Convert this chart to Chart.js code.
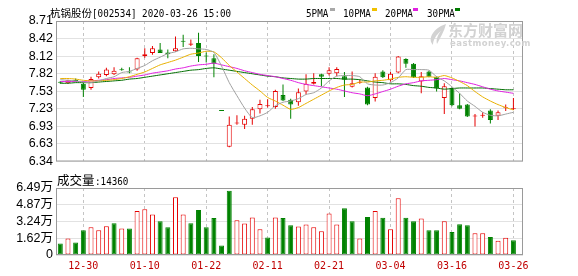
<!DOCTYPE html>
<html>
<head>
<meta charset="utf-8">
<script src="https://cdn.jsdelivr.net/npm/chart.js@4.4.1/dist/chart.umd.min.js"></script>
<style>
  html, body { margin:0; padding:0; background:#fff; }
  #stage { position:relative; width:578px; height:276px; overflow:hidden; background:#fff; }
  canvas { position:absolute; left:0; }
  #priceCanvas { top:0; }
  #volCanvas { top:170px; }
  .lbl { position:absolute; white-space:nowrap; color:#000; line-height:1; }
  .cjk { font-family:"Noto Sans CJK SC", sans-serif; }
  .asc { display:inline-block; font-family:"DejaVu Sans Mono", monospace; font-size:10.5px; transform:scaleX(0.88); transform-origin:0 50%; }
  .sw { position:absolute; width:5px; height:3px; }
  .wm { position:absolute; color:#d2d2d2; white-space:nowrap; line-height:1; }
</style>
</head>
<body>
<div id="stage">
  <canvas id="priceCanvas" width="578" height="172"></canvas>
  <canvas id="volCanvas" width="578" height="106"></canvas>

  <!-- header -->
  <div class="lbl" style="left:50px;top:4px;"><span class="cjk" style="font-size:10.5px">杭锅股份</span><span class="asc">[002534] 2020-03-26 15:00</span></div>
  <div class="lbl" style="left:306px;top:4px;"><span class="asc">5PMA</span></div>
  <div class="sw" style="left:330px;top:8px;background:#a8a8a8"></div>
  <div class="lbl" style="left:343px;top:4px;"><span class="asc">10PMA</span></div>
  <div class="sw" style="left:372px;top:8px;background:#f0c000"></div>
  <div class="lbl" style="left:385px;top:4px;"><span class="asc">20PMA</span></div>
  <div class="sw" style="left:413px;top:8px;background:#e020e0"></div>
  <div class="lbl" style="left:427px;top:4px;"><span class="asc">30PMA</span></div>
  <div class="sw" style="left:455px;top:8px;background:#007a00"></div>

  <!-- watermark -->
  <svg style="position:absolute;left:427px;top:23px" width="22" height="23" viewBox="0 0 22 23">
    <path d="M19 1 C12 3 6 8 4 14 C3 17 4 20 6 22 C6 17 9 12 14 8 C10 13 9 17 10 21 C13 15 17 9 19 1 Z" fill="#d2d2d2"/>
  </svg>
  <div class="wm cjk" style="left:448px;top:22px;font-size:15px;font-weight:bold;">东方财富网</div>
  <div class="wm" style="left:450px;top:38px;font:bold 8.5px 'DejaVu Sans',sans-serif;letter-spacing:0.45px;">eastmoney.com</div>

  <!-- volume caption -->
  <div class="lbl" style="left:57px;top:172px;"><span class="cjk" style="font-size:12.5px">成交量</span><span class="asc">:14360</span></div>
</div>

<script>
// trading days shown
const dates = [
  '12-25','12-26','12-27','12-30','12-31','01-02','01-03','01-06','01-07','01-08',
  '01-09','01-10','01-13','01-14','01-15','01-16','01-17','01-20','01-21','01-22',
  '01-23','02-03','02-04','02-05','02-06','02-07','02-10','02-11','02-12','02-13',
  '02-14','02-17','02-18','02-19','02-20','02-21','02-24','02-25','02-26','02-27',
  '02-28','03-02','03-03','03-04','03-05','03-06','03-09','03-10','03-11','03-12',
  '03-13','03-16','03-17','03-18','03-19','03-20','03-23','03-24','03-25','03-26'
];

// daily prices
const opens = [
  7.68,7.66,7.72,7.65,7.58,7.76,7.80,7.81,7.89,7.86,
  7.89,8.12,8.17,8.23,8.18,8.20,8.37,8.31,8.34,8.12,
  8.08,7.19,6.59,6.98,6.96,7.06,7.22,7.27,7.26,7.46,
  7.38,7.34,7.52,7.65,7.81,7.82,7.83,7.78,7.60,7.67,
  7.59,7.41,7.86,7.71,7.84,8.07,7.99,7.69,7.86,7.77,
  7.41,7.58,7.29,7.30,7.10,7.11,7.20,7.11,7.24,7.22
];
const highs = [
  7.70,7.72,7.74,7.67,7.77,7.86,7.92,7.93,7.92,7.93,
  8.09,8.25,8.29,8.34,8.23,8.45,8.48,8.40,8.51,8.18,
  8.15,7.19,7.10,7.12,7.11,7.26,7.38,7.39,7.55,7.64,
  7.40,7.57,7.81,7.83,7.82,7.93,7.93,7.85,7.86,7.72,
  7.60,7.83,7.88,7.85,8.12,8.08,8.00,7.85,7.87,7.78,
  7.66,7.59,7.49,7.31,7.14,7.17,7.22,7.20,7.30,7.41
];
const lows = [
  7.65,7.65,7.69,7.43,7.55,7.74,7.78,7.80,7.87,7.83,
  7.87,8.09,8.14,8.17,8.08,8.19,8.27,8.29,8.02,8.01,
  7.76,7.19,6.58,6.96,6.89,6.96,7.15,7.25,7.23,7.36,
  7.06,7.28,7.47,7.64,7.61,7.79,7.78,7.43,7.59,7.65,
  7.29,7.35,7.75,7.69,7.83,7.92,7.75,7.49,7.76,7.52,
  7.14,7.27,7.22,7.09,6.93,7.08,6.98,7.04,7.19,7.21
];
const closes = [
  7.67,7.71,7.70,7.55,7.73,7.82,7.89,7.87,7.88,7.84,
  8.08,8.15,8.25,8.17,8.15,8.25,8.36,8.33,8.12,8.11,
  7.99,7.19,6.96,6.99,7.06,7.22,7.31,7.28,7.53,7.37,
  7.30,7.51,7.65,7.68,7.77,7.88,7.90,7.72,7.66,7.68,
  7.30,7.77,7.76,7.82,8.11,7.99,7.76,7.78,7.77,7.57,
  7.61,7.29,7.23,7.10,7.11,7.13,7.04,7.17,7.25,7.24
];

// daily volume (shares, hundreds)
const volumes = [
  11100,16060,12130,23930,26880,23930,27860,30810,25570,25570,
  42610,44250,39340,32780,26880,56050,39340,30810,43600,26880,
  35730,9180,62280,33760,30490,36390,24910,17050,36390,35730,
  28850,27540,29500,26880,22950,40320,29500,45240,32780,16060,
  36710,42610,36060,24910,55070,36060,32780,35400,23930,23930,
  32780,22290,29830,28850,20980,20980,17370,13770,16720,14360
];

// moving averages
const ma5 = [
  7.72,7.71,7.70,7.68,7.67,7.70,7.74,7.77,7.84,7.86,
  7.91,7.96,8.04,8.10,8.16,8.19,8.24,8.25,8.24,8.23,
  8.18,7.95,7.67,7.45,7.24,7.08,7.11,7.17,7.28,7.34,
  7.36,7.40,7.47,7.50,7.58,7.70,7.78,7.79,7.79,7.77,
  7.65,7.63,7.63,7.67,7.75,7.89,7.89,7.89,7.88,7.77,
  7.70,7.60,7.49,7.36,7.27,7.17,7.12,7.11,7.14,7.17
];
const ma10 = [
  7.74,7.74,7.73,7.71,7.70,7.70,7.71,7.72,7.74,7.77,
  7.81,7.85,7.91,7.97,8.01,8.05,8.10,8.15,8.17,8.20,
  8.19,8.09,7.96,7.85,7.74,7.63,7.53,7.42,7.36,7.29,
  7.22,7.25,7.32,7.39,7.46,7.53,7.59,7.63,7.64,7.68,
  7.68,7.70,7.71,7.73,7.76,7.77,7.76,7.76,7.77,7.76,
  7.79,7.75,7.69,7.62,7.52,7.43,7.36,7.30,7.25,7.21
];
const ma20 = [
  7.69,7.69,7.69,7.69,7.70,7.71,7.72,7.74,7.75,7.76,
  7.78,7.80,7.83,7.85,7.87,7.90,7.92,7.95,7.97,7.98,
  8.00,7.97,7.94,7.91,7.87,7.84,7.81,7.79,7.77,7.74,
  7.71,7.67,7.64,7.62,7.60,7.58,7.56,7.53,7.50,7.48,
  7.45,7.48,7.52,7.56,7.61,7.65,7.67,7.70,7.71,7.72,
  7.74,7.72,7.70,7.67,7.64,7.60,7.56,7.53,7.51,7.49
];
const ma30 = [
  7.66,7.66,7.67,7.67,7.67,7.68,7.69,7.70,7.71,7.73,
  7.74,7.76,7.78,7.80,7.82,7.84,7.86,7.88,7.89,7.91,
  7.92,7.90,7.88,7.86,7.84,7.82,7.80,7.78,7.77,7.75,
  7.74,7.73,7.73,7.74,7.74,7.74,7.74,7.73,7.73,7.72,
  7.70,7.68,7.67,7.65,7.65,7.64,7.62,7.61,7.59,7.58,
  7.56,7.57,7.58,7.58,7.58,7.58,7.57,7.56,7.55,7.55
];

// axis labels
const priceTickLabels = ['6.34','6.63','6.93','7.23','7.53','7.82','8.12','8.42','8.71'];
const priceMin = 6.34, priceMax = 8.71;
const volTickLabels = ['0','1.62万','3.24万','4.87万','6.49万'];
const volMax = 64900;
const dateTickIdx = [3, 11, 19, 27, 35, 43, 51, 59];

const RED = '#e60000';
const GREEN = '#008200';
const X_MIN = -0.56, X_MAX = 60.25;

function candleUp(i) {
  if (closes[i] !== opens[i]) return closes[i] > opens[i];
  return i > 0 ? closes[i] >= closes[i - 1] : true;
}
function volumeUp(i) {
  return i > 0 ? closes[i] > closes[i - 1] : closes[i] >= opens[i];
}

const idx = dates.map((_, i) => i);
const candleColor = idx.map(i => candleUp(i) ? RED : GREEN);
const candleFill = idx.map(i => candleUp(i) ? '#ffffff' : GREEN);
const volColor = idx.map(i => volumeUp(i) ? RED : GREEN);
const volFill = idx.map(i => volumeUp(i) ? '#ffffff' : GREEN);

// plot frame
const framePlugin = {
  id: 'frame',
  afterDraw(chart) {
    const { ctx, chartArea: a } = chart;
    ctx.save();
    ctx.strokeStyle = '#9a9a9a';
    ctx.lineWidth = 1;
    ctx.strokeRect(a.left + 0.5, a.top + 0.5, a.right - a.left - 1, a.bottom - a.top - 1);
    ctx.restore();
  }
};

const evenTicks = (min, max, n) => Array.from({ length: n }, (_, k) => ({ value: min + (max - min) * k / (n - 1) }));

function maLine(label, values, color) {
  return {
    type: 'line', label, data: values.map((v, i) => ({ x: i, y: v })),
    borderColor: color, borderWidth: 1, pointRadius: 0, tension: 0.2, order: 0
  };
}

new Chart(document.getElementById('priceCanvas'), {
  type: 'bar',
  data: {
    datasets: [
      maLine('5PMA', ma5, '#a0a0a0'),
      maLine('10PMA', ma10, '#e8b000'),
      maLine('20PMA', ma20, '#e020e0'),
      maLine('30PMA', ma30, '#006e00'),
      {
        label: 'body',
        data: idx.map(i => ({ x: i, y: [opens[i], closes[i]] })),
        backgroundColor: candleFill, borderColor: candleColor, borderWidth: 1,
        borderSkipped: false, barThickness: 5, minBarLength: 1, grouped: false,
        inflateAmount: 0, order: 2
      },
      {
        label: 'wick',
        data: idx.map(i => ({ x: i, y: [lows[i], highs[i]] })),
        backgroundColor: candleColor, borderWidth: 0, barThickness: 1,
        grouped: false, inflateAmount: 0, order: 3
      }
    ]
  },
  options: {
    responsive: false, animation: false, events: [],
    layout: { padding: { top: 21, right: 55, bottom: 4, left: 0 } },
    plugins: { legend: { display: false }, tooltip: { enabled: false } },
    scales: {
      x: {
        type: 'linear', min: X_MIN, max: X_MAX, bounds: 'data', offset: false,
        afterBuildTicks: s => { s.ticks = dateTickIdx.map(v => ({ value: v })); },
        afterFit: s => { s.height = 0; },
        ticks: { display: false },
        grid: { color: '#c4c4c4', drawTicks: false, lineWidth: 1, offset: false },
        border: { display: false, dash: [3, 3] }
      },
      y: {
        min: priceMin, max: priceMax, bounds: 'data',
        afterBuildTicks: s => { s.ticks = evenTicks(priceMin, priceMax, priceTickLabels.length); },
        afterFit: s => { s.width = 56; },
        ticks: {
          callback: (v, i) => priceTickLabels[i], autoSkip: false,
          color: '#000', padding: 3,
          font: { family: "'Liberation Sans', Arial, sans-serif", size: 12.5 }
        },
        grid: { color: '#e2e2e2', drawTicks: false },
        border: { display: false }
      }
    }
  },
  plugins: [framePlugin]
});

new Chart(document.getElementById('volCanvas'), {
  type: 'bar',
  data: {
    datasets: [{
      label: '成交量',
      data: idx.map(i => ({ x: i, y: volumes[i] })),
      backgroundColor: volFill, borderColor: volColor, borderWidth: 1,
      borderSkipped: false, barThickness: 5, grouped: false, inflateAmount: 0
    }]
  },
  options: {
    responsive: false, animation: false, events: [],
    layout: { padding: { top: 18, right: 55, bottom: 0, left: 0 } },
    plugins: { legend: { display: false }, tooltip: { enabled: false } },
    scales: {
      x: {
        type: 'linear', min: X_MIN, max: X_MAX, bounds: 'data', offset: false,
        afterBuildTicks: s => { s.ticks = dateTickIdx.map(v => ({ value: v })); },
        afterFit: s => { s.height = 21; },
        ticks: {
          callback: v => dates[v], autoSkip: false, maxRotation: 0, padding: 5,
          color: '#c00000', font: { family: "'DejaVu Sans Mono', monospace", size: 10 }
        },
        grid: { color: '#c4c4c4', drawTicks: false, lineWidth: 1, offset: false },
        border: { display: false, dash: [3, 3] }
      },
      y: {
        min: 0, max: volMax, bounds: 'data',
        afterBuildTicks: s => { s.ticks = evenTicks(0, volMax, volTickLabels.length); },
        afterFit: s => { s.width = 56; },
        ticks: {
          callback: (v, i) => volTickLabels[i], autoSkip: false,
          color: '#000', padding: 3,
          font: { family: "'Liberation Sans', 'Noto Sans CJK SC', Arial, sans-serif", size: 12.5 }
        },
        grid: { color: '#e2e2e2', drawTicks: false },
        border: { display: false }
      }
    }
  },
  plugins: [framePlugin]
});
</script>
</body>
</html>
